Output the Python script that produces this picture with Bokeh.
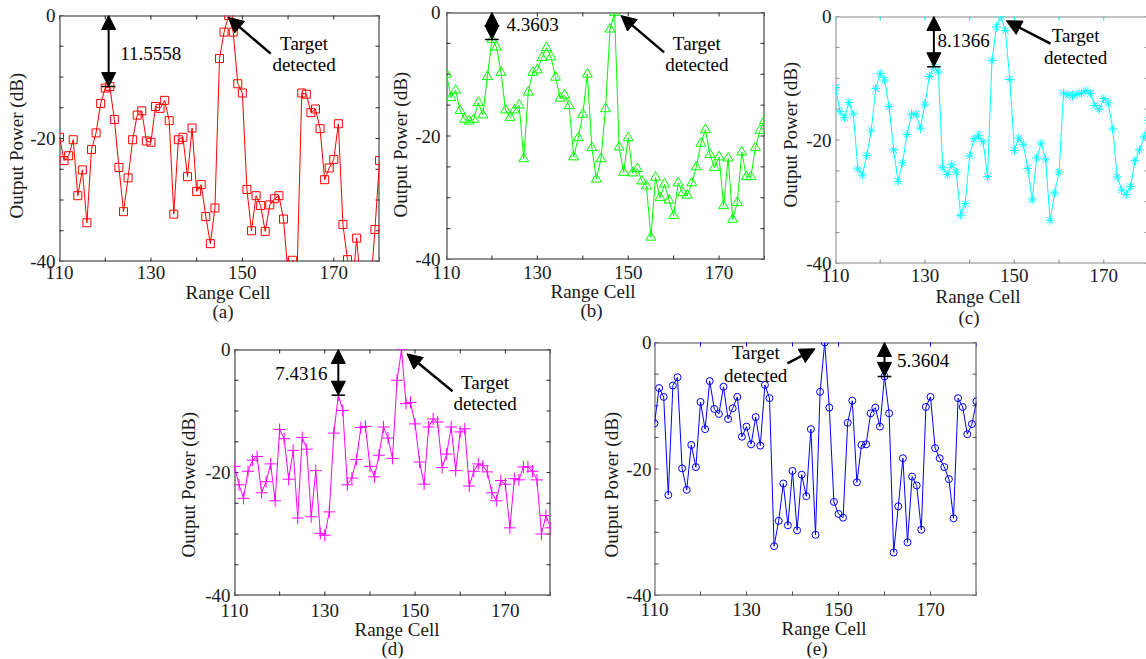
import math
from bokeh.plotting import figure
from bokeh.layouts import column, row, Spacer
from bokeh.models import Range1d, FixedTicker, Arrow, NormalHead, Title
from bokeh.core.properties import value
from bokeh.embed import file_html
from bokeh.resources import INLINE

# ---------------- data ----------------
range_cells = list(range(110, 181))

power_a = [-19.8, -23.6, -22.8, -20.2, -29.3, -25.1, -33.7, -21.8, -19.1, -14.3,
           -11.8, -11.56, -16.9, -24.7, -31.9, -26.4, -20.2, -16.2, -15.5, -20.4,
           -20.6, -14.8, -15.1, -13.8, -17.1, -32.3, -20.2, -19.8, -26.2, -18.3,
           -28.6, -27.5, -32.7, -37.1, -31.3, -7.0, -2.7, 0.0, -2.7, -11.1,
           -12.6, -28.3, -35.0, -29.3, -30.9, -35.1, -30.8, -29.8, -29.3, -33.1,
           -42.0, -39.8, -41.0, -12.6, -12.8, -15.8, -15.2, -18.4, -26.7, -24.8,
           -23.4, -17.6, -34.0, -39.7, -45.0, -36.2, -45.0, -46.0, -45.0, -34.8,
           -23.6]
power_b = [-10.0, -13.8, -12.6, -15.9, -17.3, -17.6, -17.3, -14.6, -16.6, -10.4,
           -4.36, -5.6, -9.7, -15.8, -17.0, -15.8, -15.0, -23.7, -12.9, -9.7,
           -9.3, -7.3, -5.7, -7.2, -10.5, -13.9, -13.4, -15.1, -23.4, -20.3,
           -16.5, -10.0, -21.9, -27.0, -23.7, -15.6, -2.7, 0.0, -21.8, -25.9,
           -20.3, -26.0, -25.3, -27.3, -28.1, -36.4, -26.7, -30.0, -27.8, -30.4,
           -32.9, -27.6, -29.2, -29.6, -27.6, -25.0, -21.2, -19.0, -23.0, -25.1,
           -23.4, -31.3, -23.6, -33.5, -30.8, -22.6, -26.6, -26.6, -21.9, -19.1,
           -17.5]
power_c = [-11.5, -15.4, -16.4, -13.9, -15.8, -24.7, -25.7, -22.5, -18.4, -11.7,
           -9.2, -10.3, -14.6, -21.6, -26.7, -23.7, -19.1, -15.8, -15.8, -18.1,
           -14.2, -9.7, -8.14, -9.0, -24.5, -25.6, -24.0, -25.2, -32.2, -30.3,
           -22.6, -19.8, -19.3, -20.3, -25.9, -7.1, -1.7, 0.0, -2.3, -10.2,
           -21.7, -19.7, -20.7, -24.6, -29.7, -22.9, -20.5, -23.2, -33.0, -28.6,
           -25.2, -12.4, -12.7, -12.8, -12.6, -12.4, -12.0, -12.5, -14.4, -15.0,
           -13.3, -14.0, -18.2, -26.0, -28.1, -28.8, -27.5, -23.3, -21.6, -19.5,
           -16.8]
power_d = [-19.0, -22.0, -24.2, -19.8, -18.0, -17.4, -23.3, -21.5, -18.6, -24.6,
           -13.0, -14.5, -21.1, -16.4, -27.4, -14.3, -16.2, -27.2, -19.7, -29.9,
           -30.2, -26.4, -13.6, -7.43, -9.9, -22.0, -20.9, -17.9, -12.7, -12.5,
           -19.0, -20.7, -17.2, -12.6, -14.4, -17.7, -5.0, 0.0, -8.8, -8.6,
           -12.1, -18.3, -21.9, -12.6, -11.3, -11.8, -19.2, -17.0, -12.6, -19.7,
           -13.4, -12.9, -22.2, -19.8, -18.6, -18.9, -19.9, -23.3, -24.6, -21.3,
           -21.9, -29.0, -21.0, -21.2, -19.1, -19.1, -19.8, -21.2, -30.0, -27.0,
           -29.0]
power_e = [-12.8, -7.2, -8.6, -24.1, -6.8, -5.5, -19.9, -23.3, -16.2, -19.7,
           -9.4, -13.7, -6.1, -10.5, -11.3, -7.0, -12.1, -10.4, -8.6, -14.9,
           -13.3, -16.1, -11.8, -16.3, -6.7, -8.8, -32.2, -28.2, -22.3, -28.9,
           -20.3, -29.7, -20.9, -24.3, -13.7, -30.4, -7.8, 0.0, -10.3, -25.2,
           -27.1, -27.7, -12.7, -9.2, -22.1, -16.2, -16.1, -11.2, -10.3, -13.3,
           -5.36, -11.2, -33.2, -25.9, -18.3, -31.6, -21.2, -22.6, -29.6, -10.2,
           -8.6, -16.7, -18.3, -19.7, -21.6, -27.8, -8.8, -10.2, -14.5, -12.9,
           -9.3]

x_ticks = [110, 120, 130, 140, 150, 160, 170, 180]
x_tick_labels = ["110", "", "130", "", "150", "", "170", ""]
y_ticks = [-40, -35, -30, -25, -20, -15, -10, -5, 0]
y_tick_labels = ["-40", "", "", "", "-20", "", "", "", "0"]

gap_cells = [120.75, 120, 132, 133, 160]
gap_levels = [-11.5558, -4.3603, -8.1366, -7.4316, -5.3604]
gap_labels = ["11.5558", "4.3603", "8.1366", "7.4316", "5.3604"]
panel_letters = ["(a)", "(b)", "(c)", "(d)", "(e)"]
x_label = "Range Cell"
y_label = "Output Power (dB)"
target_text = ["Target", "detected"]

FONT = "Liberation Serif"
FS = "19px"
TXT = "#1a1a1a"
X0, X1, Y0, Y1 = 110, 180, -40, 0

# ---------------- layout / style per panel ----------------
cfgs = [
    dict(power=power_a, color="#ff0000", marker="square", msize=8, w=386, h=330, mb=(59, 7, 15, 69),
         xend=180, box="#262626", toptick="#262626",
         gtext=(123.3, -6.1, "left"), tgt=(163.5, -4.6, -8.0), arr=(156.2, -6.2, 146.9, -0.3),
         ystand=4, xstand=4, ylab=(43, 2), rc=(126, -4), let=(153, -4)),
    dict(power=power_b, color="#00ff00", marker="triangle", msize=10, w=389, h=330, mb=(52, 11, 12, 71),
         xend=180, box="#262626", toptick="#262626",
         gtext=(123.2, -1.95, "left"), tgt=(165.1, -4.95, -8.4), arr=(157.9, -6.45, 148.4, -0.5),
         ystand=6, xstand=6, ylab=(42, 3), rc=(104, -5), let=(134, -4)),
    dict(power=power_c, color="#00ffff", marker="asterisk", msize=9, w=371, h=330, mb=(54, 0, 16, 67),
         xend=179.56, box="#8a8a8a", toptick="#00e5ee",
         gtext=(132.8, -3.9, "left"), tgt=(163.7, -3.1, -6.7), arr=(158.1, -4.4, 148.2, -0.7),
         ystand=4, xstand=5, ylab=(56, 5), rc=(100, -1), let=(123, -4)),
    dict(power=power_d, color="#ff00ff", marker="cross", msize=12, w=424, h=328, mb=(59, 46, 19, 63),
         xend=180, box="#262626", toptick="#262626",
         gtext=(130.6, -3.85, "right"), tgt=(165.5, -5.4, -8.8), arr=(158.3, -6.8, 148.2, -0.7),
         ystand=4, xstand=8, ylab=(38, 7), rc=(120, -5), let=(147, -3)),
    dict(power=power_e, color="#0000ff", marker="circle", msize=7, w=394, h=328, mb=(54, 14, 12, 63),
         xend=180, box="#4d4d4d", toptick="#0000ff",
         gtext=(162.7, -2.85, "left"), tgt=(132.0, -1.66, -5.2), arr=(138.9, -3.3, 144.9, -1.0),
         ystand=3, xstand=7, ylab=(38, 4), rc=(127, -5), let=(152, -2)),
]


def style_axis(ax, standoff):
    ax.axis_line_color = None
    ax.major_tick_line_color = None
    ax.minor_tick_line_color = None
    ax.major_tick_in = 0
    ax.major_tick_out = 0
    ax.major_label_standoff = standoff
    ax.major_label_text_font = FONT
    ax.major_label_text_font_size = FS
    ax.major_label_text_color = TXT


def make_panel(i, c):
    p = figure(width=c["w"], height=c["h"], x_range=Range1d(X0, c["xend"]), y_range=Range1d(Y0, Y1),
               output_backend="svg", toolbar_location=None,
               min_border_left=c["mb"][0], min_border_right=c["mb"][1],
               min_border_top=c["mb"][2], min_border_bottom=c["mb"][3])
    p.grid.visible = False
    p.outline_line_color = None
    p.background_fill_color = "white"
    p.border_fill_color = "white"
    box = c["box"]

    xa = p.xaxis[0]
    xa.ticker = FixedTicker(ticks=x_ticks)
    xa.major_label_overrides = dict(zip(x_ticks, x_tick_labels))
    style_axis(xa, c["xstand"])
    ya = p.yaxis[0]
    ya.ticker = FixedTicker(ticks=y_ticks)
    ya.major_label_overrides = dict(zip(y_ticks, y_tick_labels))
    style_axis(ya, c["ystand"])

    # box: lines on the frame edges (half of each line lies inside the frame)
    p.segment(x0=[X0, X0, X0, X1], y0=[Y1, Y0, Y0, Y0], x1=[X1, X1, X0, X1], y1=[Y1, Y0, Y1, Y1],
              line_color=box, line_width=2)

    # inward ticks: short dashes centred on the edges, the outer half clipped away
    nx, ny = len(x_ticks), len(y_ticks)
    p.scatter(x=x_ticks, y=[Y1] * nx, marker="dash", size=8, angle=math.pi / 2,
              line_color=c["toptick"], line_width=1)
    p.scatter(x=x_ticks, y=[Y0] * nx, marker="dash", size=8, angle=math.pi / 2,
              line_color=box, line_width=1)
    p.scatter(x=[X0] * ny, y=y_ticks, marker="dash", size=8, angle=0,
              line_color=box, line_width=1)
    p.scatter(x=[X1] * ny, y=y_ticks, marker="dash", size=8, angle=0,
              line_color=box, line_width=1)

    # series
    p.line(range_cells, c["power"], line_color=c["color"], line_width=1)
    p.scatter(range_cells, c["power"], marker=c["marker"], size=c["msize"], line_color=c["color"],
              fill_color=None, line_width=1)

    # side-lobe gap arrow
    gc, gl = gap_cells[i], gap_levels[i]
    hd = lambda s: NormalHead(size=s, fill_color="black", line_color="black", line_width=1)
    p.add_layout(Arrow(x_start=gc, y_start=0, x_end=gc, y_end=gl, line_width=2, line_color="black",
                       start=hd(14), end=hd(14)))
    p.segment(x0=[gc - 1.5], y0=[gl], x1=[gc + 1.5], y1=[gl], line_color="black", line_width=1.5)
    gx, gy, ga = c["gtext"]
    p.text(x=[gx], y=[gy], text=[gap_labels[i]], text_font=value(FONT), text_font_size=FS,
           text_align=ga, text_baseline="middle", text_color="black")

    # target detected
    tx, ty1, ty2 = c["tgt"]
    p.text(x=[tx, tx], y=[ty1, ty2], text=target_text, text_font=value(FONT), text_font_size=FS,
           text_align="center", text_baseline="middle", text_color="black")
    ax0, ay0, ax1, ay1 = c["arr"]
    p.add_layout(Arrow(x_start=ax0, y_start=ay0, x_end=ax1, y_end=ay1, line_width=2.5, line_color="black",
                       end=hd(15)))

    # texts round the frame
    p.add_layout(Title(text=y_label, align="left", offset=c["ylab"][0], standoff=c["ylab"][1],
                       text_font=FONT, text_font_size=FS, text_font_style="normal", text_color=TXT), "left")
    p.add_layout(Title(text=x_label, align="left", offset=c["rc"][0], standoff=c["rc"][1],
                       text_font=FONT, text_font_size=FS, text_font_style="normal", text_color=TXT), "below")
    p.add_layout(Title(text=panel_letters[i], align="left", offset=c["let"][0], standoff=c["let"][1],
                       text_font=FONT, text_font_size=FS, text_font_style="normal", text_color=TXT), "below")
    return p


figs = [make_panel(i, c) for i, c in enumerate(cfgs)]
# each figure sits in its own column so that its frame keeps its own position
layout = column(row(column(figs[0]), column(figs[1]), column(figs[2])),
                row(Spacer(width=172, height=328), column(figs[3]), column(figs[4])))

open("out.html", "w").write(file_html(layout, INLINE))
